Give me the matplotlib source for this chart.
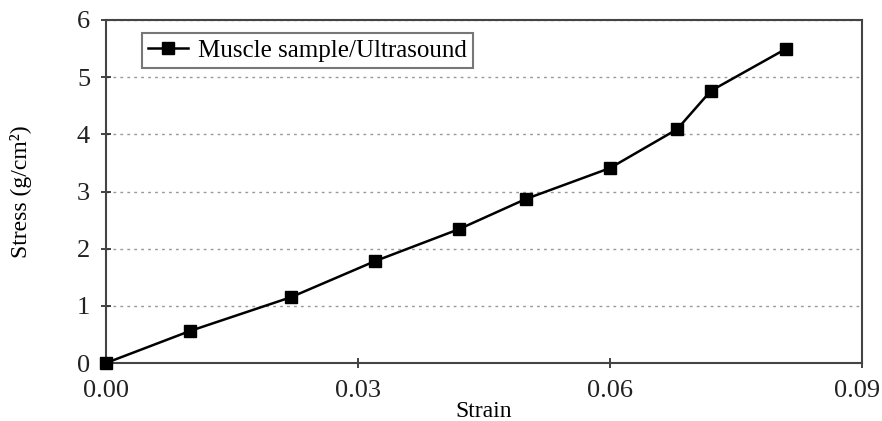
import matplotlib.pyplot as plt
import matplotlib.transforms as mtransforms

plt.rcParams['font.family'] = ['Liberation Serif', 'DejaVu Serif']

# 측정값 (strain, stress)
strain = [0.0, 0.010, 0.022, 0.032, 0.042, 0.050, 0.060, 0.068, 0.072, 0.081]
stress = [0.0, 0.56, 1.15, 1.78, 2.34, 2.87, 3.41, 4.09, 4.76, 5.50]

x_ticks = [0.00, 0.03, 0.06, 0.09]
y_ticks = [0, 1, 2, 3, 4, 5, 6]

fig = plt.figure(figsize=(8.82, 4.21), dpi=100)
ax = fig.add_axes([106 / 882, 1 - 363 / 421, (862 - 106) / 882, (363 - 20) / 421])

ax.plot(strain, stress, '-', color='black', lw=1.8, marker='s', ms=9,
        label='Muscle sample/Ultrasound', clip_on=False, zorder=3)

ax.set_xlim(0, 0.09)
ax.set_ylim(0, 6)
ax.set_xticks(x_ticks)
ax.set_xticklabels(['%.2f' % v for v in x_ticks])
ax.set_yticks(y_ticks)

ax.yaxis.grid(True, linestyle=(0, (2, 3)), color='#999999', lw=1)
ax.set_axisbelow(True)

for s in ax.spines.values():
    s.set_color('#444444')
    s.set_linewidth(1.5)

ax.tick_params(direction='inout', length=7, width=1.2, colors='#222222',
               labelsize=19)
ax.tick_params(axis='x', pad=9)
ax.tick_params(axis='y', pad=8)

# 마지막 눈금 라벨이 오른쪽 끝에서 잘리지 않게 살짝 왼쪽으로
last = ax.get_xticklabels()[-1]
last.set_transform(last.get_transform() + mtransforms.ScaledTranslation(-5 / 100, 0, fig.dpi_scale_trans))

ax.set_xlabel('Strain', fontsize=17, labelpad=-1)
ax.set_ylabel('Stress (g/cm²)', fontsize=17, labelpad=32)

leg = ax.legend(loc='upper left', bbox_to_anchor=(36 / 756, 1 - 13 / 343),
                fontsize=18, frameon=True, fancybox=False, handlelength=1.6,
                borderpad=0.25, handletextpad=0.4, borderaxespad=0)
leg.get_frame().set_edgecolor('#555555')
leg.get_frame().set_linewidth(1.5)

fig.savefig('out.png', dpi=100)
